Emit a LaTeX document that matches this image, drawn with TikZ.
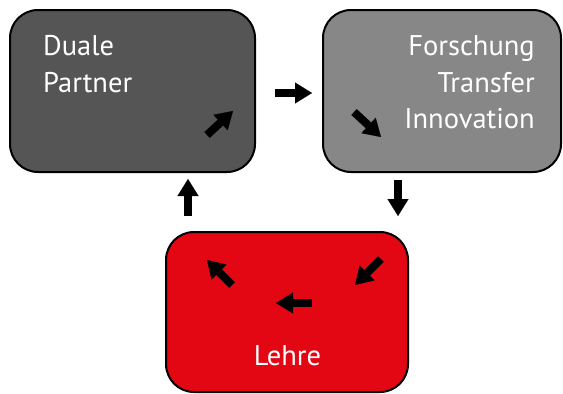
\documentclass[tikz,border=0pt]{standalone}
\usepackage{fontspec}
\setmainfont{PT Sans}
\usetikzlibrary{arrows.meta}
\definecolor{boxdark}{RGB}{85,85,85}
\definecolor{boxgray}{RGB}{135,135,135}
\definecolor{boxred}{RGB}{227,6,19}
\tikzset{
  box/.style={draw=black, line width=2pt, rounded corners=28pt, inner sep=0pt},
  lbl/.style={text=white, font=\fontsize{28.5}{37}\selectfont, inner sep=0pt},
  blockarrow/.style={line width=8pt, draw=black, -{Triangle[length=17pt,width=21pt,line width=0.1pt]}}
}
\begin{document}
\begin{tikzpicture}[x=1pt,y=-1pt]
\useasboundingbox (0,0) rectangle (563,394);
% boxes
\node[box, fill=boxdark, minimum width=245pt, minimum height=162pt] (partner) at (132.5,91) {};
\node[box, fill=boxgray, minimum width=238pt, minimum height=162pt] (forschung) at (442,91) {};
\node[box, fill=boxred, minimum width=242pt, minimum height=160pt] (lehre) at (287,312) {};
% texts
\node[lbl, anchor=base west] (t1) at (43,55) {Duale};
\node[lbl, anchor=base west] (t2) at (43,92) {Partner};
\node[lbl, anchor=base east] (t3) at (535,55) {Forschung};
\node[lbl, anchor=base east] (t4) at (535,92) {Transfer};
\node[lbl, anchor=base east] (t5) at (535,128) {Innovation};
\node[lbl, anchor=base] (t6) at (287.5,365) {Lehre};
% arrow coordinates
\coordinate (a1s) at (275,93);  \coordinate (a1e) at (312,93);
\coordinate (a2s) at (398,180); \coordinate (a2e) at (398,216);
\coordinate (a3s) at (188,216); \coordinate (a3e) at (188,179);
\coordinate (a4s) at (207,135); \coordinate (a4e) at (233,111);
\coordinate (a5s) at (354,112); \coordinate (a5e) at (381,137);
\coordinate (a6s) at (381,259); \coordinate (a6e) at (355,285);
\coordinate (a7s) at (312,303); \coordinate (a7e) at (276,303);
\coordinate (a8s) at (232,285); \coordinate (a8e) at (207,260);
% arrows
\draw[blockarrow] (a1s) -- (a1e);
\draw[blockarrow] (a2s) -- (a2e);
\draw[blockarrow] (a3s) -- (a3e);
\draw[blockarrow] (a4s) -- (a4e);
\draw[blockarrow] (a5s) -- (a5e);
\draw[blockarrow] (a6s) -- (a6e);
\draw[blockarrow] (a7s) -- (a7e);
\draw[blockarrow] (a8s) -- (a8e);
\end{tikzpicture}
\end{document}
